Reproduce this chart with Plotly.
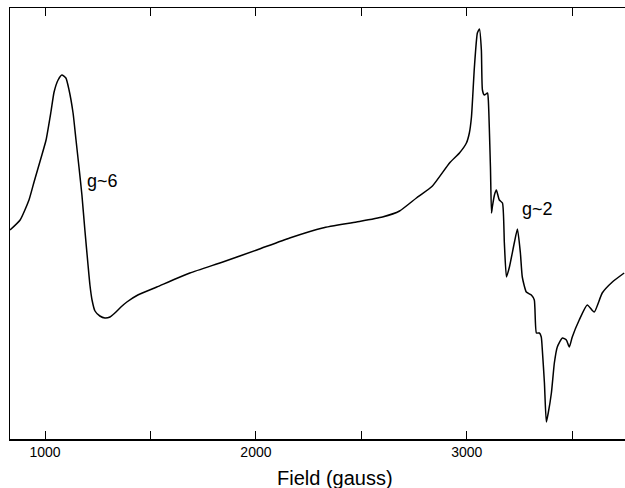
import plotly.graph_objects as go

# EPR spectrum
field_gauss = [834, 882, 924, 948, 981, 1005, 1028, 1043, 1062, 1080, 1099, 1114, 1133, 1147,
               1161, 1175, 1189, 1204, 1213, 1223, 1237, 1260, 1284, 1308, 1331, 1360, 1388,
               1440, 1530, 1687, 1843, 2004, 2160, 2316, 2477, 2600, 2681, 2761, 2837, 2918,
               2965, 2998, 3012, 3022, 3036, 3050, 3060, 3069, 3074, 3083, 3098, 3102, 3112,
               3117, 3121, 3131, 3140, 3154, 3169, 3178, 3188, 3202, 3225, 3240, 3254, 3263,
               3282, 3306, 3320, 3330, 3344, 3353, 3358, 3368, 3377, 3386, 3401, 3415, 3429,
               3453, 3472, 3486, 3500, 3533, 3571, 3604, 3642, 3690, 3746]
signal = [209, 219, 239, 257, 281, 299, 327, 347, 359, 364, 361, 349, 326, 299,
          272, 244, 209, 174, 154, 139, 128, 123, 121, 122, 126, 132, 137,
          144, 152, 166, 177, 189, 201, 211, 217, 222, 228, 241, 253, 276,
          286, 296, 306, 322, 372, 406, 410, 389, 349, 344, 346, 339, 272,
          226, 232, 244, 249, 239, 236, 196, 162, 172, 196, 210, 186, 162,
          147, 144, 139, 106, 106, 102, 89, 56, 17, 26, 46, 76, 92,
          101, 99, 92, 102, 119, 134, 127, 146, 157, 166]

tick_values = [1000, 1500, 2000, 2500, 3000, 3500]
tick_labels = ["1000", "", "2000", "", "3000", ""]

x_title = "Field (gauss)"
peak_labels = ["g~6", "g~2"]

fig = go.Figure()
fig.add_trace(go.Scatter(
    x=field_gauss, y=signal, mode="lines",
    line=dict(color="black", width=1.5, shape="spline", smoothing=0.5),
    hoverinfo="skip", showlegend=False,
))

font_family = "Liberation Sans, Arial, sans-serif"

fig.update_layout(
    width=625, height=488,
    margin=dict(l=10, r=0, t=8, b=49),
    paper_bgcolor="white", plot_bgcolor="white",
    font=dict(family=font_family, color="black"),
    xaxis=dict(
        range=[834, 3750], showgrid=False, zeroline=False,
        showline=True, linecolor="black", linewidth=1.5, mirror="ticks",
        ticks="inside", ticklen=8, tickwidth=1, tickcolor="black",
        tickvals=tick_values, ticktext=tick_labels,
        tickfont=dict(size=14, color="black", family=font_family),
    ),
    yaxis=dict(
        range=[0, 431], showgrid=False, zeroline=False,
        showline=True, linecolor="black", linewidth=1.2, mirror=False,
        showticklabels=False, ticks="",
    ),
    annotations=[
        dict(text=peak_labels[0], xref="paper", yref="paper", x=0.1496, y=0.5986,
             showarrow=False, xanchor="center", yanchor="middle",
             font=dict(size=18, color="black", family=font_family)),
        dict(text=peak_labels[1], xref="paper", yref="paper", x=0.8585, y=0.5336,
             showarrow=False, xanchor="center", yanchor="middle",
             font=dict(size=18, color="black", family=font_family)),
        dict(text=x_title, xref="paper", yref="paper", x=0.5285, y=-0.0905,
             showarrow=False, xanchor="center", yanchor="middle",
             font=dict(size=20, color="black", family=font_family)),
    ],
)

fig.write_html(
    "out.html",
    config={"displayModeBar": False, "staticPlot": True},
    post_script="document.body.style.margin='0px';document.body.style.overflow='hidden';",
)
